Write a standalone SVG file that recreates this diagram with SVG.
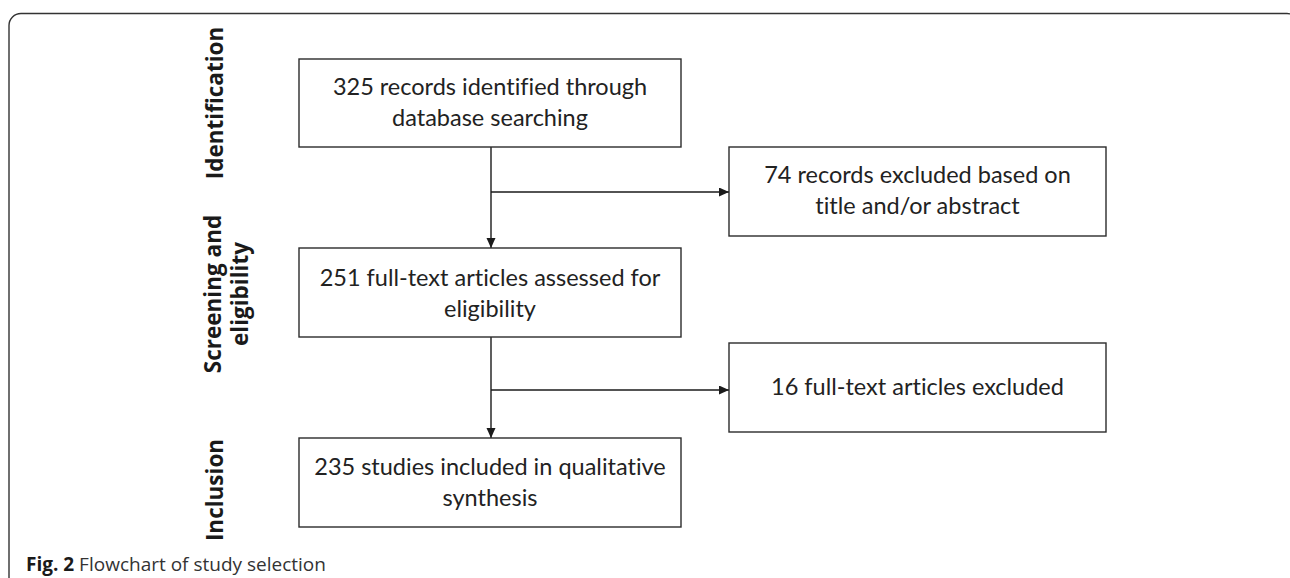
<svg xmlns="http://www.w3.org/2000/svg" width="1290" height="578" viewBox="0 0 1290 578">
  <style>
    .box { fill: #ffffff; stroke: #2b2b2b; stroke-width: 1.4; }
    .txt { font-family: Lato, "Open Sans", sans-serif; font-size: 23.5px; fill: #222222; text-anchor: middle; font-variant-ligatures: none; }
    .stage { font-family: "Open Sans", "Noto Sans", sans-serif; font-weight: bold; font-size: 22.5px; fill: #1a1a1a; text-anchor: middle; }
    .cap { font-family: "Open Sans", "Noto Sans", sans-serif; font-size: 19px; fill: #333333; }
    .link { fill: none; stroke: #1a1a1a; stroke-width: 1.4; }
  </style>
  <defs>
    <marker id="arrow" markerWidth="10" markerHeight="10" refX="10" refY="4.5" orient="auto" markerUnits="userSpaceOnUse">
      <path d="M0,0 L10,4.5 L0,9 Z" fill="#1a1a1a"/>
    </marker>
  </defs>

  <rect width="1290" height="578" fill="#ffffff"/>

  <!-- outer panel frame, open at the bottom and right -->
  <path d="M9,578 V25.5 A12,12 0 0 1 21,13.5 H1287 A12,12 0 0 1 1299,25.5 V578" fill="none" stroke="#333333" stroke-width="1.4"/>

  <!-- stage labels -->
  <g id="stage-identification">
    <text class="stage" transform="translate(223,103) rotate(-90)">Identification</text>
  </g>
  <g id="stage-screening">
    <text class="stage" transform="translate(221,294) rotate(-90)">Screening and</text>
    <text class="stage" transform="translate(248,294) rotate(-90)">eligibility</text>
  </g>
  <g id="stage-inclusion">
    <text class="stage" transform="translate(223,490) rotate(-90)">Inclusion</text>
  </g>

  <!-- connectors -->
  <g id="connectors">
    <path class="link" d="M491,147 V248" marker-end="url(#arrow)"/>
    <path class="link" d="M491,192 H729" marker-end="url(#arrow)"/>
    <path class="link" d="M491,337 V438" marker-end="url(#arrow)"/>
    <path class="link" d="M491,390 H729" marker-end="url(#arrow)"/>
  </g>

  <g id="node-records">
    <rect class="box" x="299" y="59" width="382" height="88"/>
    <text class="txt" x="490" y="95">325 records identified through</text>
    <text class="txt" x="490" y="126">database searching</text>
  </g>

  <g id="node-excluded-title">
    <rect class="box" x="729" y="147" width="377" height="89"/>
    <text class="txt" x="917.5" y="183">74 records excluded based on</text>
    <text class="txt" x="917.5" y="214">title and/or abstract</text>
  </g>

  <g id="node-fulltext">
    <rect class="box" x="299" y="248" width="382" height="89"/>
    <text class="txt" x="490" y="286">251 full-text articles assessed for</text>
    <text class="txt" x="490" y="317">eligibility</text>
  </g>

  <g id="node-excluded-fulltext">
    <rect class="box" x="729" y="343" width="377" height="89"/>
    <text class="txt" x="917.5" y="395">16 full-text articles excluded</text>
  </g>

  <g id="node-included">
    <rect class="box" x="299" y="438" width="382" height="89"/>
    <text class="txt" x="490" y="475">235 studies included in qualitative</text>
    <text class="txt" x="490" y="506">synthesis</text>
  </g>

  <!-- figure caption -->
  <text class="cap" x="26" y="571"><tspan font-weight="bold" fill="#1a1a1a">Fig. 2</tspan> Flowchart of study selection</text>
</svg>
